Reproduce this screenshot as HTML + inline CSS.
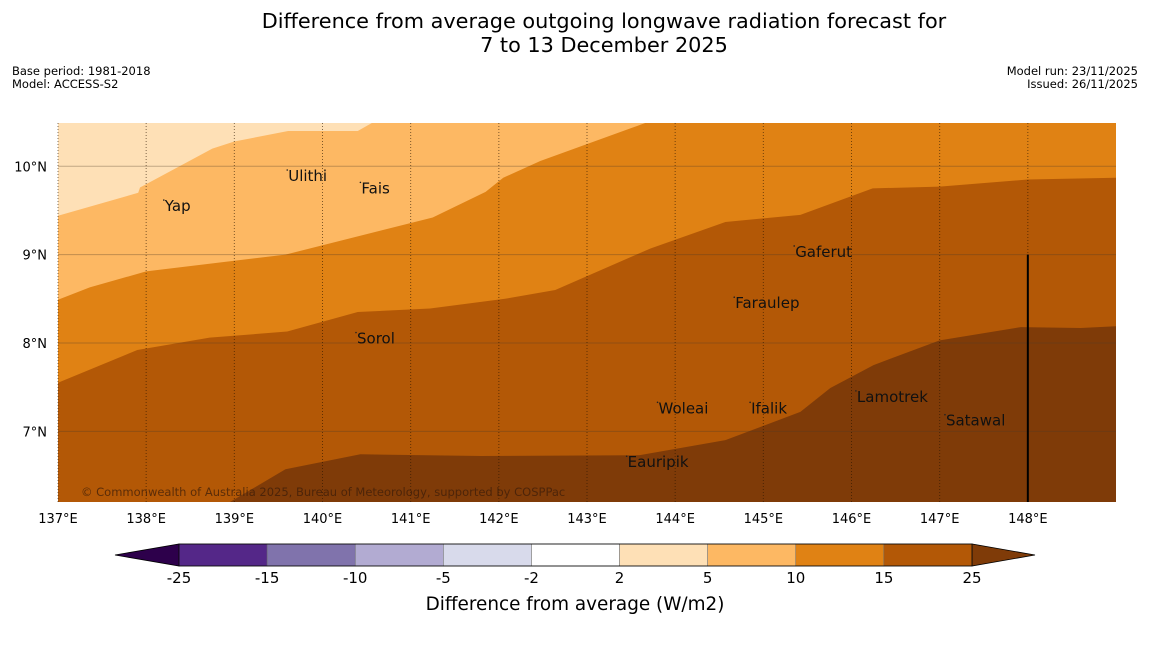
<!DOCTYPE html>
<html><head><meta charset="utf-8"><style>
body{margin:0;background:#fff;font-family:"Liberation Sans","DejaVu Sans",sans-serif;}
</style></head><body>
<svg width="1150" height="644" xmlns="http://www.w3.org/2000/svg" font-family="DejaVu Sans, Liberation Sans, sans-serif">
<text x="604" y="28" font-size="20.8" text-anchor="middle">Difference from average outgoing longwave radiation forecast for</text>
<text x="604" y="52" font-size="20.8" text-anchor="middle">7 to 13 December 2025</text>
<text x="12" y="75" font-size="11.5">Base period: 1981-2018</text>
<text x="12" y="88" font-size="11.5">Model: ACCESS-S2</text>
<text x="1138" y="75" font-size="11.5" text-anchor="end">Model run: 23/11/2025</text>
<text x="1138" y="88" font-size="11.5" text-anchor="end">Issued: 26/11/2025</text>
<g id="map"></g>
<g id="cbar"></g>
<text x="575" y="610" font-size="18.4" text-anchor="middle">Difference from average (W/m2)</text>
</svg>
<script>
const lonTicks=[137,138,139,140,141,142,143,144,145,146,147,148];
const latTicks=[10,9,8,7];
const levelColors=["#fee0b6","#fdb863","#e08214","#b35806","#7f3b08"];
const boundary1=[[137,9.44],[137.91,9.7],[137.93,9.76],[138.75,10.2],[139.0,10.28],[139.61,10.4],[140.4,10.4],[140.56,10.49]];
const boundary2=[[137,8.49],[137.36,8.63],[138,8.81],[139.58,9.0],[141.25,9.42],[141.85,9.71],[142.05,9.87],[142.47,10.06],[143.66,10.49]];
const boundary3=[[137,7.55],[137.9,7.92],[138.72,8.06],[139.6,8.13],[140.4,8.35],[141.22,8.39],[142.07,8.5],[142.64,8.6],[143.72,9.07],[144.57,9.37],[145.42,9.45],[146.24,9.75],[147.0,9.77],[148.0,9.85],[149,9.87]];
const boundary4=[[138.95,6.2],[139.58,6.57],[140.43,6.74],[141.8,6.72],[143.6,6.73],[144.57,6.9],[145.42,7.22],[145.76,7.49],[146.25,7.75],[147.0,8.03],[147.92,8.18],[148.6,8.17],[149,8.19]];
const places=["Yap","Ulithi","Fais","Gaferut","Faraulep","Sorol","Woleai","Ifalik","Lamotrek","Satawal","Eauripik"];
const placeLon=[138.2,139.6,140.43,145.35,144.67,140.38,143.8,144.85,146.05,147.06,143.45];
const placeLat=[9.55,9.89,9.75,9.03,8.45,8.05,7.26,7.26,7.39,7.12,6.65];
const cbLevels=["-25","-15","-10","-5","-2","2","5","10","15","25"];
const cbColors=["#542788","#8073ac","#b2abd2","#d8daeb","#ffffff","#fee0b6","#fdb863","#e08214","#b35806"];
const NS="http://www.w3.org/2000/svg";
const X0=58,X1=1116,Y0=123,Y1=502,LON0=137,LON1=149,LAT0=6.2,LAT1=10.49;
const xs=l=>X0+(l-LON0)/(LON1-LON0)*(X1-X0);
const ys=l=>Y1-(l-LAT0)/(LAT1-LAT0)*(Y1-Y0);
function mk(p,t,a){const e=document.createElementNS(NS,t);for(const k in a)e.setAttribute(k,a[k]);p.appendChild(e);return e;}
const map=document.getElementById('map');
let r=mk(map,'rect',{x:X0,y:Y0,width:X1-X0,height:Y1-Y0,fill:levelColors[0]});


const bs=[boundary1,boundary2,boundary3,boundary4];
bs.forEach((b,i)=>{
  let pts=b.map(p=>xs(p[0])+','+ys(p[1]));
  let first=b[0],last=b[b.length-1];
  let extra=[];
  if(ys(last[1])<=Y0+0.5) extra.push(X1+','+Y0);
  extra.push(X1+','+Y1);
  extra.push(xs(first[0])+','+Y1);
  const pg=mk(map,'polygon',{points:pts.concat(extra).join(' '),fill:levelColors[i+1]});
  
  
});
latTicks.forEach(v=>{
  const l=mk(map,'line',{x1:X0,x2:X1,y1:ys(v),y2:ys(v),stroke:'rgba(80,60,40,0.35)','stroke-width':1});
  
  
  const t=mk(map,'text',{x:47,y:ys(v)+5,'font-size':13,'text-anchor':'end'});t.textContent=v+'°N';
  
  
});
lonTicks.forEach(v=>{
  const l=mk(map,'line',{x1:xs(v),x2:xs(v),y1:Y0,y2:Y1,stroke:'rgba(40,20,0,0.6)','stroke-width':1,'stroke-dasharray':'1,2'});
  
  
  const t=mk(map,'text',{x:xs(v),y:523,'font-size':13,'text-anchor':'middle'});t.textContent=v+'°E';
  
  
});
const vl=mk(map,'line',{x1:xs(148),x2:xs(148),y1:ys(9),y2:Y1,stroke:'#000','stroke-width':2});


places.forEach((n,i)=>{
  const d=mk(map,'circle',{cx:xs(placeLon[i]),cy:ys(placeLat[i])-6,r:0.8,fill:'#222'});
  
  
  const t=mk(map,'text',{x:xs(placeLon[i])+1,y:ys(placeLat[i])+5,'font-size':15,fill:'#111'});t.textContent=n;
  
  
});
const cp=mk(map,'text',{x:81,y:496,'font-size':11.5,fill:'rgba(60,30,10,0.75)'});cp.textContent='© Commonwealth of Australia 2025, Bureau of Meteorology, supported by COSPPac';


const cb=document.getElementById('cbar');
const CX0=179,CX1=972,CY0=544,CY1=566,w=(CX1-CX0)/cbColors.length;
const lt=mk(cb,'polygon',{points:`${CX0},${CY0} ${CX0},${CY1} 115,555`,fill:'#2d004b',stroke:'#000','stroke-width':0.8});


const rt=mk(cb,'polygon',{points:`${CX1},${CY0} ${CX1},${CY1} 1035,555`,fill:'#7f3b08',stroke:'#000','stroke-width':0.8});


cbColors.forEach((c,i)=>{
  const s=mk(cb,'rect',{x:CX0+i*w,y:CY0,width:w,height:CY1-CY0,fill:c,stroke:'#666','stroke-width':0.5});
  
  
});
mk(cb,'rect',{x:CX0,y:CY0,width:CX1-CX0,height:CY1-CY0,fill:'none',stroke:'#000','stroke-width':0.8});
cbLevels.forEach((v,i)=>{
  const t=mk(cb,'text',{x:CX0+i*w,y:583,'font-size':15,'text-anchor':'middle'});t.textContent=v;
  
  
});
</script>
</body></html>
